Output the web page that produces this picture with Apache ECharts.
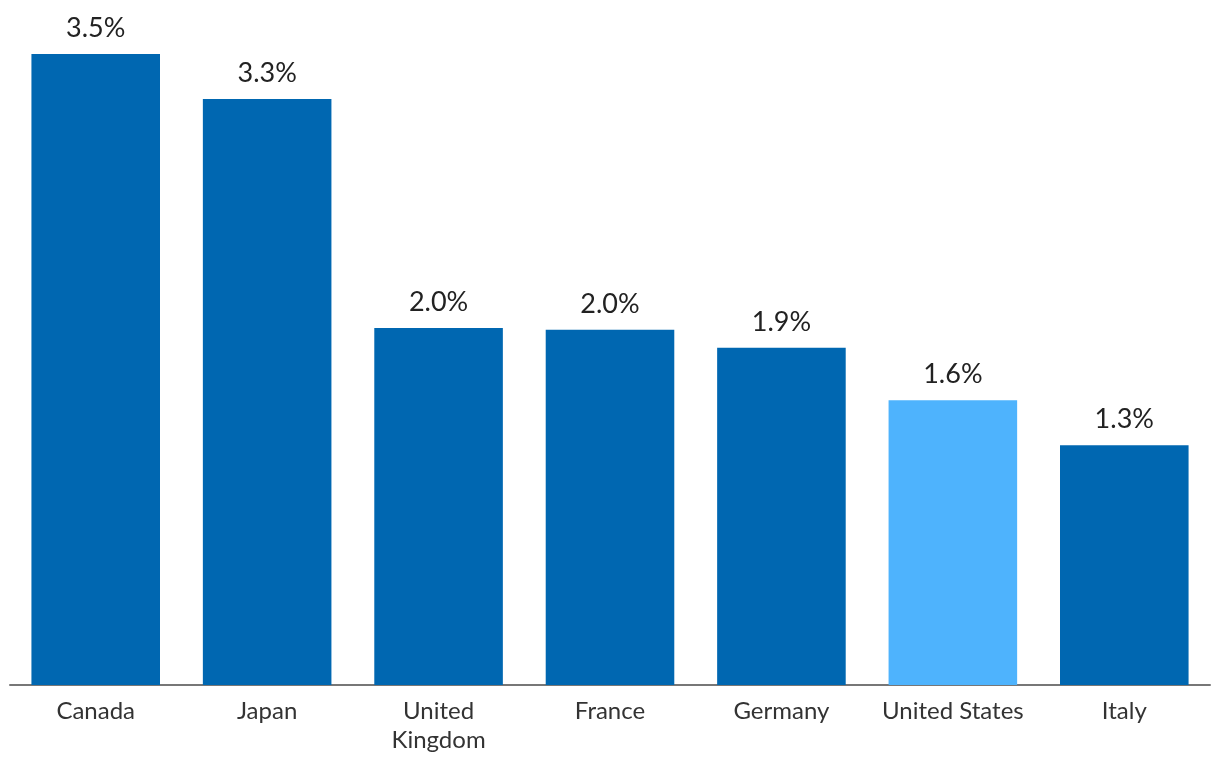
<!DOCTYPE html>
<html><head><meta charset="utf-8">
<script src="https://cdn.jsdelivr.net/npm/echarts@6/dist/echarts.min.js"></script>
<style>html,body{margin:0;padding:0;background:#fff}#c{width:1220px;height:772px}</style>
</head><body><div id="c"></div>
<script>
const categories = ['Canada', 'Japan', 'United\nKingdom', 'France', 'Germany', 'United States', 'Italy'];
const values = [3.50, 3.25, 1.98, 1.97, 1.87, 1.58, 1.33];
const highlight = [false, false, false, false, false, true, false];

const chart = echarts.init(document.getElementById('c'));
chart.setOption({
  animation: false,
  grid: { left: 10, right: 10, top: 54, bottom: 87, containLabel: false },
  xAxis: {
    type: 'category', data: categories,
    axisLine: { lineStyle: { color: '#777', width: 2 } },
    axisTick: { show: false },
    axisLabel: { color: '#333', fontFamily: 'Lato', fontSize: 24, margin: 12, lineHeight: 29, interval: 0 }
  },
  yAxis: { type: 'value', min: 0, max: 3.5, show: false, splitLine: { show: false } },
  series: [{
    type: 'bar', barCategoryGap: '25%',
    data: values.map((v, i) => ({ value: v, itemStyle: { color: highlight[i] ? '#4eb3fd' : '#0067b1' } })),
    label: { show: true, position: 'top', distance: 12, color: '#222', fontFamily: 'Lato', fontSize: 27,
      formatter: p => (Math.round(p.value * 10) / 10).toFixed(1) + '%' }
  }]
});
</script></body></html>
